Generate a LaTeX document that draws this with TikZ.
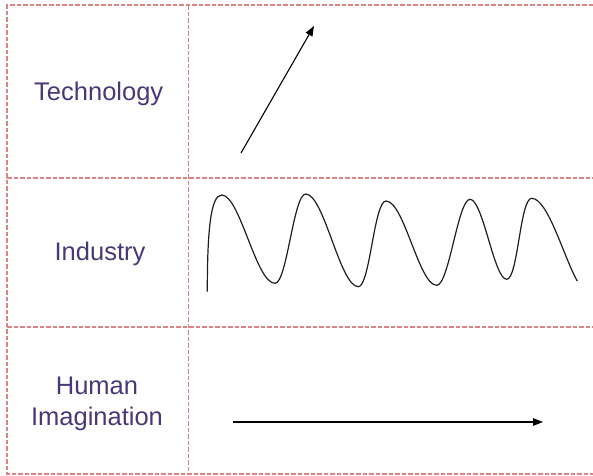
\documentclass[tikz,border=0pt]{standalone}
\usepackage{fontspec}
\setmainfont{Liberation Sans}
\usetikzlibrary{arrows.meta}

\definecolor{gridred}{RGB}{220,132,132}
\definecolor{labelink}{RGB}{72,56,118}
\definecolor{curveink}{RGB}{30,30,30}

\begin{document}
\begin{tikzpicture}[x=1pt,y=-1pt,
  gridline/.style={draw=gridred,line width=1.5pt,dash pattern=on 4.5pt off 2pt},
  rowlabel/.style={text=labelink,inner sep=0pt,font=\fontsize{25.5}{31}\selectfont,align=center},
  trend/.style={draw=black,line width=1.1pt,-{Triangle[length=10pt,width=7.5pt]}},
  wave/.style={draw=curveink,line width=1.2pt}]

  \useasboundingbox (0,0) rectangle (593,475);

  % table grid: open on the right-hand side
  \draw[gridline] (593,5) -- (7,5) -- (7,474) -- (593,474);
  \draw[gridline] (7,178) -- (593,178);
  \draw[gridline] (7,327) -- (593,327);
  \draw[gridline] (188.5,5) -- (188.5,474);

  % row labels
  \node[rowlabel,anchor=base] (tech) at (98.7,100) {Technology};
  \node[rowlabel,anchor=base] (ind) at (100,260) {Industry};
  \node[rowlabel,anchor=north] (imag) at (97,376.5) {Human\\Imagination};

  % technology: steep rise
  \coordinate (t0) at (241,153);
  \coordinate (t1) at (314,26);
  \draw[trend] (t0) -- (t1);

  % industry: boom and bust cycles
  \coordinate (s)  at (207.3,291.7);
  \coordinate (p1) at (221.7,195);
  \coordinate (q1) at (275,283.3);
  \coordinate (p2) at (305.7,194);
  \coordinate (q2) at (358.3,286.7);
  \coordinate (p3) at (386,201);
  \coordinate (q3) at (436.7,285.3);
  \coordinate (p4) at (470,199.3);
  \coordinate (q4) at (506.7,279.3);
  \coordinate (p5) at (531.7,198.3);
  \coordinate (e)  at (577.3,281);
  \draw[wave] (s)
    .. controls (207.3,232) and (210.5,195) .. (p1)
    .. controls (240,195) and (256,283.3) .. (q1)
    .. controls (287,283.3) and (293.5,194) .. (p2)
    .. controls (324,194) and (340,286.7) .. (q2)
    .. controls (370,286.7) and (374,201) .. (p3)
    .. controls (404,201) and (419,285.3) .. (q3)
    .. controls (449,285.3) and (458,199.3) .. (p4)
    .. controls (483,199.3) and (494,279.3) .. (q4)
    .. controls (518,279.3) and (520,198.3) .. (p5)
    .. controls (548,198.3) and (564,258) .. (e);

  % human imagination: steady progress
  \coordinate (h0) at (233,422);
  \coordinate (h1) at (543,422);
  \draw[trend] (h0) -- (h1);
\end{tikzpicture}
\end{document}
